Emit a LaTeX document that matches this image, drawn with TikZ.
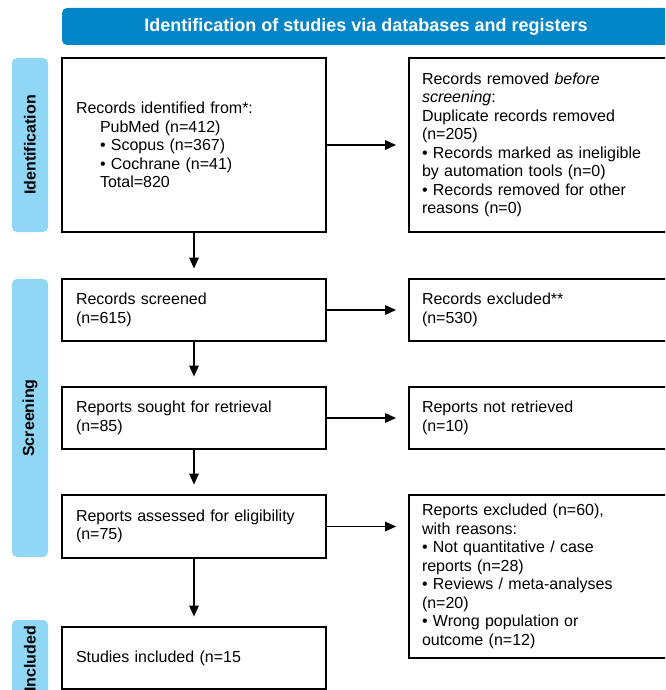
\documentclass[tikz,border=0pt]{standalone}
\usepackage{fontspec}
\setmainfont{Liberation Sans}
\usetikzlibrary{arrows.meta}
\definecolor{headblue}{HTML}{0386C8}
\definecolor{sideblue}{HTML}{8FD7F5}
\begin{document}
\begin{tikzpicture}[x=1pt,y=-1pt,
  box/.style={draw=black,line width=1.8pt,fill=white,inner ysep=0pt,align=left,
     font=\fontsize{16}{18.5}\selectfont,anchor=center},
  lbox/.style={box,inner xsep=14pt,minimum width=264pt,text width=236pt},
  rbox/.style={box,inner xsep=13pt,minimum width=281pt,text width=255pt},
  side/.style={fill=sideblue,rounded corners=5pt},
  sidetext/.style={rotate=90,font=\fontsize{16}{18}\bfseries\selectfont,anchor=center},
  arr/.style={line width=1.3pt,-{Triangle[length=11pt,width=9.5pt]}}
]
\useasboundingbox (0,0) rectangle (665,690);
\clip (0,0) rectangle (665,690);
% header
\fill[headblue,rounded corners=5pt] (62,8) rectangle (700,45);
\node[font=\fontsize{18}{20}\bfseries\selectfont,text=white] (head) at (366,26.5) {Identification of studies via databases and registers};
% side labels
\fill[side] (12,58) rectangle (48,232);
\node[sidetext] (sid) at (30,145) {Identification};
\fill[side] (12,279) rectangle (48,557);
\node[sidetext] (sscr) at (30,418) {Screening};
\fill[side] (12,620) rectangle (48,712);
\node[sidetext] (sinc) at (30,659) {Included};
% boxes
\node[lbox,minimum height=174pt] (b1) at (194,145) {Records identified from*:\\
\hspace*{24pt}PubMed (n=412)\\
\hspace*{24pt}• Scopus (n=367)\\
\hspace*{24pt}• Cochrane (n=41)\\
\hspace*{24pt}Total=820};
\node[rbox,minimum height=174pt] (b2) at (549.5,145) {Records removed \textit{before}\\
\textit{screening}:\\
Duplicate records removed\\
(n=205)\\
• Records marked as ineligible\\
by automation tools (n=0)\\
• Records removed for other\\
reasons (n=0)};
\node[lbox,minimum height=62pt] (b3) at (194,310) {Records screened\\(n=615)};
\node[rbox,minimum height=62pt] (b4) at (549.5,310) {Records excluded**\\(n=530)};
\node[lbox,minimum height=62pt] (b5) at (194,418) {Reports sought for retrieval\\(n=85)};
\node[rbox,minimum height=62pt] (b6) at (549.5,418) {Reports not retrieved\\(n=10)};
\node[lbox,minimum height=63pt] (b7) at (194,526.5) {Reports assessed for eligibility\\(n=75)};
\node[rbox,minimum height=163pt] (b8) at (549.5,576.5) {Reports excluded (n=60),\\
with reasons:\\
• Not quantitative / case\\
reports (n=28)\\
• Reviews / meta-analyses\\
(n=20)\\
• Wrong population or\\
outcome (n=12)};
\node[lbox,minimum height=62pt] (b9) at (194,658) {Studies included (n=15};
% arrows
\draw[arr,shorten >=12pt] (b1.east) -- (b2.west);
\draw[arr,shorten >=12pt] (b3.east) -- (b4.west);
\draw[arr,shorten >=12pt] (b5.east) -- (b6.west);
\draw[arr,shorten >=12pt] (b7.east) -- (b7.east -| b8.west);
\draw[arr,shorten >=9.5pt] (b1.south) -- (b3.north);
\draw[arr,shorten >=9.5pt] (b3.south) -- (b5.north);
\draw[arr,shorten >=9.5pt] (b5.south) -- (b7.north);
\draw[arr,shorten >=9.5pt] (b7.south) -- (b9.north);
\end{tikzpicture}
\end{document}
